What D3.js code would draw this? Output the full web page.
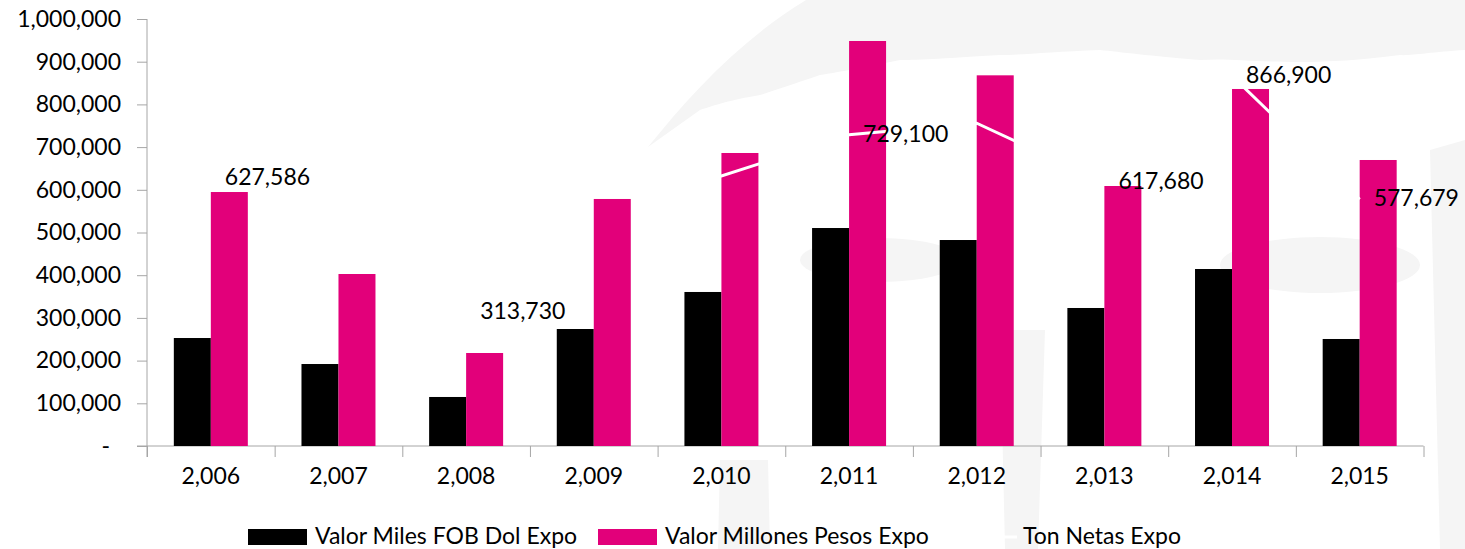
<!DOCTYPE html>
<html>
<head>
<meta charset="utf-8">
<script src="https://cdn.jsdelivr.net/npm/d3@7"></script>
<style>
  html, body { margin: 0; padding: 0; background: #ffffff; }
  svg { display: block; font-family: Lato, "Open Sans", sans-serif; }
</style>
</head>
<body>
<svg id="chart" width="1465" height="549"></svg>
<script>
// ---- data ----
const years = ["2,006","2,007","2,008","2,009","2,010","2,011","2,012","2,013","2,014","2,015"];
const valorMilesFOB = [252900, 192000, 114800, 274000, 360700, 510500, 482400, 323200, 414500, 250600];
const valorMillonesPesos = [594800, 402800, 217800, 578500, 686200, 948500, 868100, 608900, 836100, 669800];
const tonNetas = [627586, 540000, 313730, 632000, 632300, 729100, 756000, 617680, 866900, 577679];
const tonLabels = ["627,586", null, "313,730", null, null, "729,100", null, "617,680", "866,900", "577,679"];
const yTicks = [0, 100000, 200000, 300000, 400000, 500000, 600000, 700000, 800000, 900000, 1000000];
const seriesNames = ["Valor Miles FOB Dol Expo", "Valor Millones Pesos Expo", "Ton Netas Expo"];

const PINK = "#e2007a";
const BLACK = "#000000";
const AXIS = "#a6a6a6";
const FONT = "23px";

const svg = d3.select("#chart");

// ---- faint watermark (background crest) ----
const wm = svg.append("g").attr("fill", "#f5f5f5");
wm.append("path").attr("d",
  "M648,147 C690,95 740,40 806,0 L1465,0 L1465,50 C1430,52 1410,56 1400,55 " +
  "C1360,60 1330,62 1300,62 C1250,62 1230,58 1200,60 C1150,56 1120,52 1100,50 " +
  "C1050,52 1020,55 1000,55 C950,58 920,60 900,60 C860,68 840,72 820,75 " +
  "C790,85 770,92 760,95 C730,100 715,105 700,110 Z");
wm.append("path").attr("d", "M1430,150 L1465,140 L1465,549 L1440,549 Z");
wm.append("path").attr("d", "M720,460 L768,460 L770,549 L718,549 Z");
wm.append("ellipse").attr("cx", 880).attr("cy", 260).attr("rx", 80).attr("ry", 22);
wm.append("ellipse").attr("cx", 1320).attr("cy", 265).attr("rx", 100).attr("ry", 28);
wm.append("path").attr("d", "M1000,330 L1045,330 L1038,549 L1005,549 Z");

// ---- scales ----
const x = d3.scaleBand().domain(years).range([147, 1423.5]).paddingInner(0).paddingOuter(0);
const xSub = d3.scaleBand().domain([0, 1]).range([0, x.bandwidth()]).paddingInner(0).paddingOuter(0.725);
const y = d3.scaleLinear().domain([0, 1000000]).range([446, 19]);
const xb = d3.scaleLinear().domain([0, years.length]).range([147, 1423.5]);

// ---- y axis ----
const yAxis = svg.append("g").attr("transform", "translate(147,0)")
  .call(d3.axisLeft(y).tickValues(yTicks).tickSize(10).tickPadding(16)
    .tickFormat(d => d === 0 ? "-" : d3.format(",")(d)));
yAxis.select(".domain").attr("stroke", AXIS).attr("d", "M0,19V457");
yAxis.selectAll(".tick line").attr("stroke", AXIS);
yAxis.selectAll(".tick text").attr("fill", "#000").style("font-size", FONT)
  .style("font-family", "Lato, sans-serif")
  .attr("dx", d => d === 0 ? -11 : 0);

// ---- x axis (category boundaries) ----
const xAxis = svg.append("g").attr("transform", "translate(0,446)")
  .call(d3.axisBottom(xb).tickValues(d3.range(0, years.length + 1)).tickSize(11).tickFormat(""));
xAxis.select(".domain").attr("stroke", AXIS).attr("d", "M137,0H1423.5");
xAxis.selectAll(".tick line").attr("stroke", AXIS);

const xLab = svg.append("g").attr("transform", "translate(0,446)")
  .call(d3.axisBottom(x).tickSize(0).tickPadding(22));
xLab.select(".domain").remove();
xLab.selectAll(".tick text").attr("fill", "#000").style("font-size", FONT)
  .style("font-family", "Lato, sans-serif");

// ---- bars ----
const series = [valorMilesFOB, valorMillonesPesos];
const colors = [BLACK, PINK];
series.forEach((vals, si) => {
  svg.append("g").selectAll("rect").data(vals).join("rect")
    .attr("x", (d, i) => x(years[i]) + xSub(si))
    .attr("y", d => y(d))
    .attr("width", xSub.bandwidth())
    .attr("height", d => y(0) - y(d))
    .attr("fill", colors[si]);
});

// ---- line (white) ----
const line = d3.line()
  .x((d, i) => x(years[i]) + x.bandwidth() / 2)
  .y(d => y(d));
svg.append("path").datum(tonNetas)
  .attr("d", line).attr("fill", "none")
  .attr("stroke", "#ffffff").attr("stroke-width", 3);

// ---- data labels ----
svg.append("g").selectAll("text")
  .data(tonNetas.map((v, i) => ({ v, i, t: tonLabels[i] })).filter(d => d.t))
  .join("text")
  .attr("x", d => x(years[d.i]) + x.bandwidth() / 2 + 14)
  .attr("y", d => y(d.v))
  .attr("dy", "0.3em")
  .style("font-size", FONT)
  .style("font-family", "Lato, sans-serif")
  .attr("fill", "#000")
  .text(d => d.t);

// ---- legend ----
const legend = svg.append("g");
const legendItems = [
  { name: seriesNames[0], color: BLACK, kind: "rect", x: 248, tx: 315 },
  { name: seriesNames[1], color: PINK, kind: "rect", x: 598, tx: 665 },
  { name: seriesNames[2], color: "#ffffff", kind: "line", x: 958, tx: 1023 }
];
legendItems.forEach(it => {
  if (it.kind === "rect") {
    legend.append("rect").attr("x", it.x).attr("y", 529).attr("width", 59).attr("height", 16).attr("fill", it.color);
  } else {
    legend.append("line").attr("x1", it.x).attr("x2", it.x + 59).attr("y1", 537).attr("y2", 537)
      .attr("stroke", it.color).attr("stroke-width", 3);
  }
  legend.append("text").attr("x", it.tx).attr("y", 544)
    .style("font-size", FONT).style("font-family", "Lato, sans-serif")
    .attr("fill", "#000").text(it.name);
});
</script>
</body>
</html>
